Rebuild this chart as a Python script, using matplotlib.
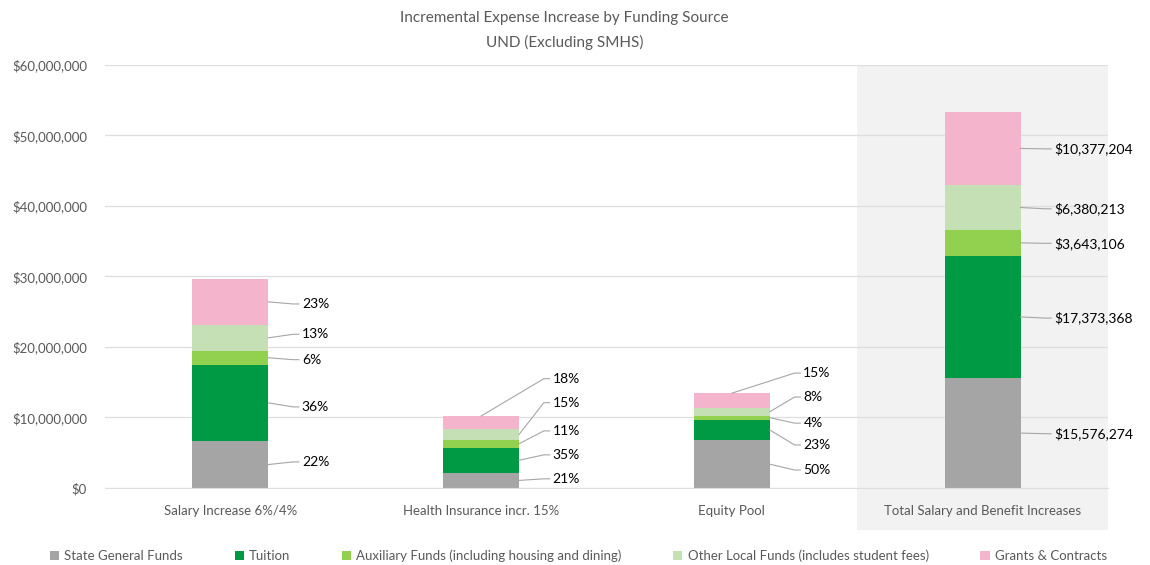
"""Incremental expense increase by funding source, stacked bars"""
import matplotlib
matplotlib.use('Agg')
import matplotlib.pyplot as plt
from matplotlib.patches import Rectangle
from matplotlib.ticker import FuncFormatter

plt.rcParams['font.family'] = ['Lato', 'DejaVu Sans']

categories = ['Salary Increase 6%/4%', 'Health Insurance incr. 15%', 'Equity Pool',
              'Total Salary and Benefit Increases']
series = ['State General Funds', 'Tuition', 'Auxiliary Funds (including housing and dining)',
          'Other Local Funds (includes student fees)', 'Grants & Contracts']

# values in dollars (total bar from its labels)
state = [6650000, 2150000, 6750000, 15576274]
tuition = [10850000, 3570000, 2950000, 17373368]
auxiliary = [1950000, 1120000, 550000, 3643106]
other_local = [3700000, 1530000, 1150000, 6380213]
grants = [6500000, 1840000, 2050000, 10377204]

labels_salary = ['22%', '36%', '6%', '13%', '23%']
labels_health = ['21%', '35%', '11%', '15%', '18%']
labels_equity = ['50%', '23%', '4%', '8%', '15%']
labels_total = ['$15,576,274', '$17,373,368', '$3,643,106', '$6,380,213', '$10,377,204']

colors = ['#a5a5a5', '#009a44', '#92d050', '#c5e0b4', '#f4b4cc']
text_gray = '#595959'

# label heights (layout only), millions
label_y = [
    [3.7, 11.5, 18.2, 21.8, 26.1],
    [1.3, 4.7, 8.1, 12.1, 15.5],
    [2.55, 6.1, 9.2, 12.9, 16.3],
    [7.7, 24.1, 34.7, 39.6, 48.1],
]

fig = plt.figure(figsize=(11.5, 5.65), dpi=100)
ax = fig.add_axes([0.0913, 0.1363, 0.8722, 0.7487])

# shaded total slot
ax.add_patch(Rectangle((2.5, -0.099), 1.0, 1.099, transform=ax.get_xaxis_transform(),
                       facecolor='#f2f2f2', edgecolor='none', clip_on=False, zorder=0))

data = [state, tuition, auxiliary, other_local, grants]
width = 0.303
bottoms = [0, 0, 0, 0]
for vals, name, col in zip(data, series, colors):
    ax.bar(range(4), vals, width, bottom=bottoms, color=col, label=name, zorder=2)
    bottoms = [b + v for b, v in zip(bottoms, vals)]

all_labels = [labels_salary, labels_health, labels_equity, labels_total]
for i in range(4):
    base = 0
    for j, vals in enumerate(data):
        v = vals[i]
        mid = base + v / 2
        top = base + v
        base = top
        ty = label_y[i][j] * 1e6
        if j == 4 and i in (1, 2):
            ax_x, ax_y = i, top
        else:
            ax_x, ax_y = i + width / 2, mid
        tx = i + 0.285
        ax.plot([ax_x, tx - 0.035, tx - 0.012], [ax_y, ty, ty], color='#a6a6a6', lw=0.8, zorder=3)
        ax.text(tx, ty, all_labels[i][j], ha='left', va='center', fontsize=10, color='black')

ax.set_xlim(-0.5, 3.5)
ax.set_ylim(0, 60e6)
ax.set_yticks([i * 10e6 for i in range(7)])
ax.yaxis.set_major_formatter(FuncFormatter(lambda v, p: '${:,.0f}'.format(v)))
ax.set_xticks(range(4))
ax.set_xticklabels(categories)
ax.tick_params(axis='both', length=0, labelsize=9.5, labelcolor=text_gray)
ax.tick_params(axis='x', pad=12)
ax.tick_params(axis='y', pad=13)
ax.grid(axis='y', color='#dedede', lw=0.9, zorder=1)
ax.set_axisbelow(True)
for s in ['top', 'right', 'left']:
    ax.spines[s].set_visible(False)
ax.spines['bottom'].set_color('#dedede')
ax.patch.set_alpha(0)

fig.text(0.491, 0.968, 'Incremental Expense Increase by Funding Source', ha='center', va='center',
         fontsize=11, color=text_gray)
fig.text(0.491, 0.924, 'UND (Excluding SMHS)', ha='center', va='center', fontsize=11, color=text_gray)

fig.legend(loc='center', bbox_to_anchor=(0.503, 0.016), ncol=5, frameon=False, fontsize=9.5,
           handlelength=0.7, handleheight=0.7, handletextpad=0.4, columnspacing=3.9,
           labelcolor=text_gray)

fig.savefig('out.png', dpi=100)
